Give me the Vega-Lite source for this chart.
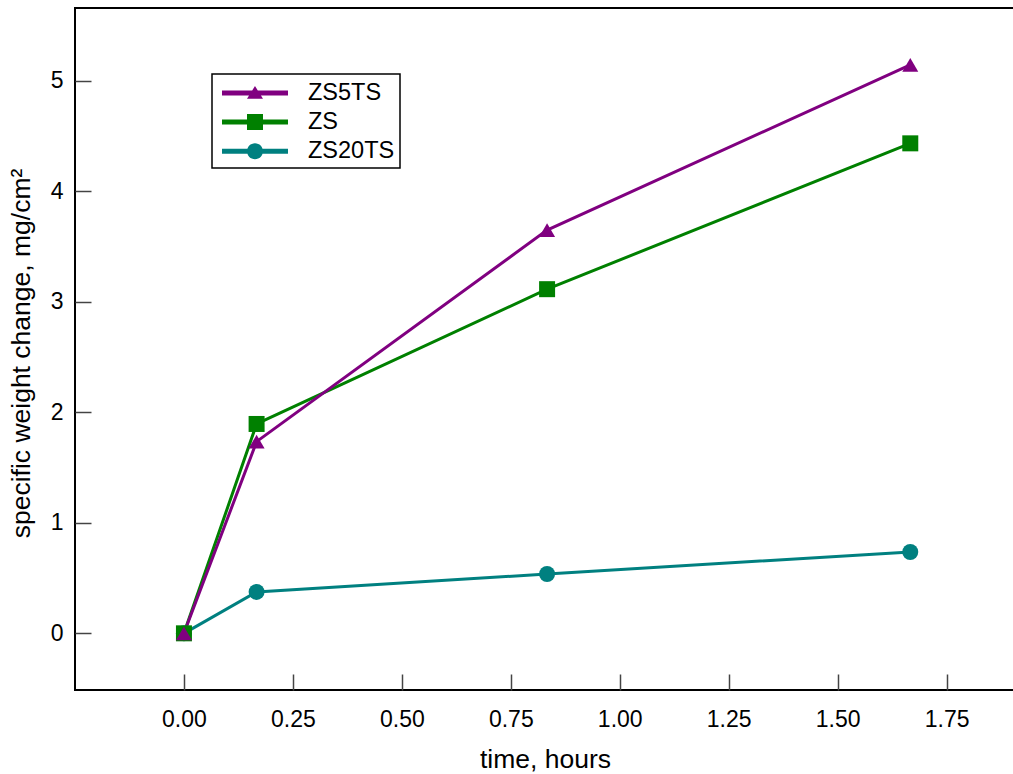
{
  "$schema": "https://vega.github.io/schema/vega-lite/v6.json",
  "autosize": "none",
  "padding": {"left": 75, "top": 8, "right": 0, "bottom": 84},
  "width": 940,
  "height": 682,
  "background": "white",
  "config": {
    "view": {"stroke": "black", "strokeWidth": 2},
    "font": "Liberation Sans",
    "axis": {
      "grid": false,
      "domain": false,
      "tickColor": "#444",
      "tickWidth": 1.5,
      "tickSize": -16,
      "labelFont": "Liberation Sans",
      "labelFontSize": 23,
      "labelColor": "black",
      "titleFont": "Liberation Sans",
      "titleFontSize": 26.5,
      "titleFontWeight": "normal",
      "titleColor": "black"
    },
    "legend": {"strokeWidth": 1.5}
  },
  "data": {
    "values": [
      {"series": "ZS20TS", "time": 0, "value": 0},
      {"series": "ZS20TS", "time": 0.1667, "value": 0.375},
      {"series": "ZS20TS", "time": 0.8333, "value": 0.537},
      {"series": "ZS20TS", "time": 1.6667, "value": 0.736},
      {"series": "ZS", "time": 0, "value": 0},
      {"series": "ZS", "time": 0.1667, "value": 1.895},
      {"series": "ZS", "time": 0.8333, "value": 3.115},
      {"series": "ZS", "time": 1.6667, "value": 4.435},
      {"series": "ZS5TS", "time": 0, "value": 0},
      {"series": "ZS5TS", "time": 0.1667, "value": 1.735},
      {"series": "ZS5TS", "time": 0.8333, "value": 3.65},
      {"series": "ZS5TS", "time": 1.6667, "value": 5.145}
    ]
  },
  "encoding": {
    "x": {
      "field": "time",
      "type": "quantitative",
      "scale": {"domain": [-0.25, 1.907], "nice": false, "zero": false},
      "axis": {
        "title": "time, hours",
        "values": [0, 0.25, 0.5, 0.75, 1, 1.25, 1.5, 1.75],
        "format": ".2f",
        "labelPadding": 34,
        "titleBaseline": "alphabetic",
        "titleY": 77
      }
    },
    "y": {
      "field": "value",
      "type": "quantitative",
      "scale": {"domain": [-0.513, 5.66], "nice": false, "zero": false},
      "axis": {
        "title": "specific weight change, mg/cm²",
        "values": [0, 1, 2, 3, 4, 5],
        "format": "d",
        "labelPadding": 28,
        "titleBaseline": "alphabetic",
        "titleX": -46,
        "titleY": 345
      }
    },
    "color": {
      "field": "series",
      "type": "nominal",
      "scale": {
        "domain": ["ZS5TS", "ZS", "ZS20TS"],
        "range": ["#800080", "#008000", "#008080"]
      }
    }
  },
  "layer": [
    {
      "mark": {"type": "line", "strokeWidth": 3},
      "encoding": {"color": {"field": "series", "type": "nominal", "legend": null}}
    },
    {
      "mark": {"type": "point", "filled": true, "opacity": 1, "size": 256},
      "encoding": {
        "color": {"field": "series", "type": "nominal", "legend": null},
        "shape": {
          "field": "series",
          "type": "nominal",
          "scale": {"domain": ["ZS5TS", "ZS", "ZS20TS"], "range": ["triangle-up", "square", "circle"]},
          "legend": null
        }
      }
    },
    {
      "mark": {"type": "point", "filled": true, "opacity": 0, "size": 256},
      "encoding": {
        "color": {
          "field": "series",
          "type": "nominal",
          "legend": {
            "title": null,
            "orient": "none",
            "legendX": 137,
            "legendY": 66,
            "padding": 5,
            "strokeColor": "black",
            "fillColor": "white",
            "symbolSize": 784,
            "symbolOpacity": 1,
            "symbolStrokeWidth": 0,
            "labelFont": "Liberation Sans",
            "labelFontSize": 23.5,
            "labelColor": "black",
            "labelOffset": 63,
            "rowPadding": 3.1
          }
        },
        "shape": {
          "field": "series",
          "type": "nominal",
          "scale": {
            "domain": ["ZS5TS", "ZS", "ZS20TS"],
            "range": [
              "M-0.643,-0.179H4.071V0.179H-0.643Z M1.714,-0.5L2.285,0.41H1.143Z",
              "M-0.643,-0.179H4.071V0.179H-0.643Z M1.143,-0.571H2.285V0.571H1.143Z",
              "M-0.643,-0.179H4.071V0.179H-0.643Z M2.285,0A0.571,0.571 0 1,1 1.143,0A0.571,0.571 0 1,1 2.285,0Z"
            ]
          },
          "legend": {
            "title": null,
            "orient": "none",
            "legendX": 137,
            "legendY": 66,
            "padding": 5,
            "strokeColor": "black",
            "fillColor": "white",
            "symbolSize": 784,
            "symbolOpacity": 1,
            "symbolStrokeWidth": 0,
            "labelFont": "Liberation Sans",
            "labelFontSize": 23.5,
            "labelColor": "black",
            "labelOffset": 63,
            "rowPadding": 3.1
          }
        }
      }
    }
  ],
  "resolve": {
    "scale": {"shape": "independent"},
    "legend": {"color": "independent", "shape": "independent"}
  }
}
